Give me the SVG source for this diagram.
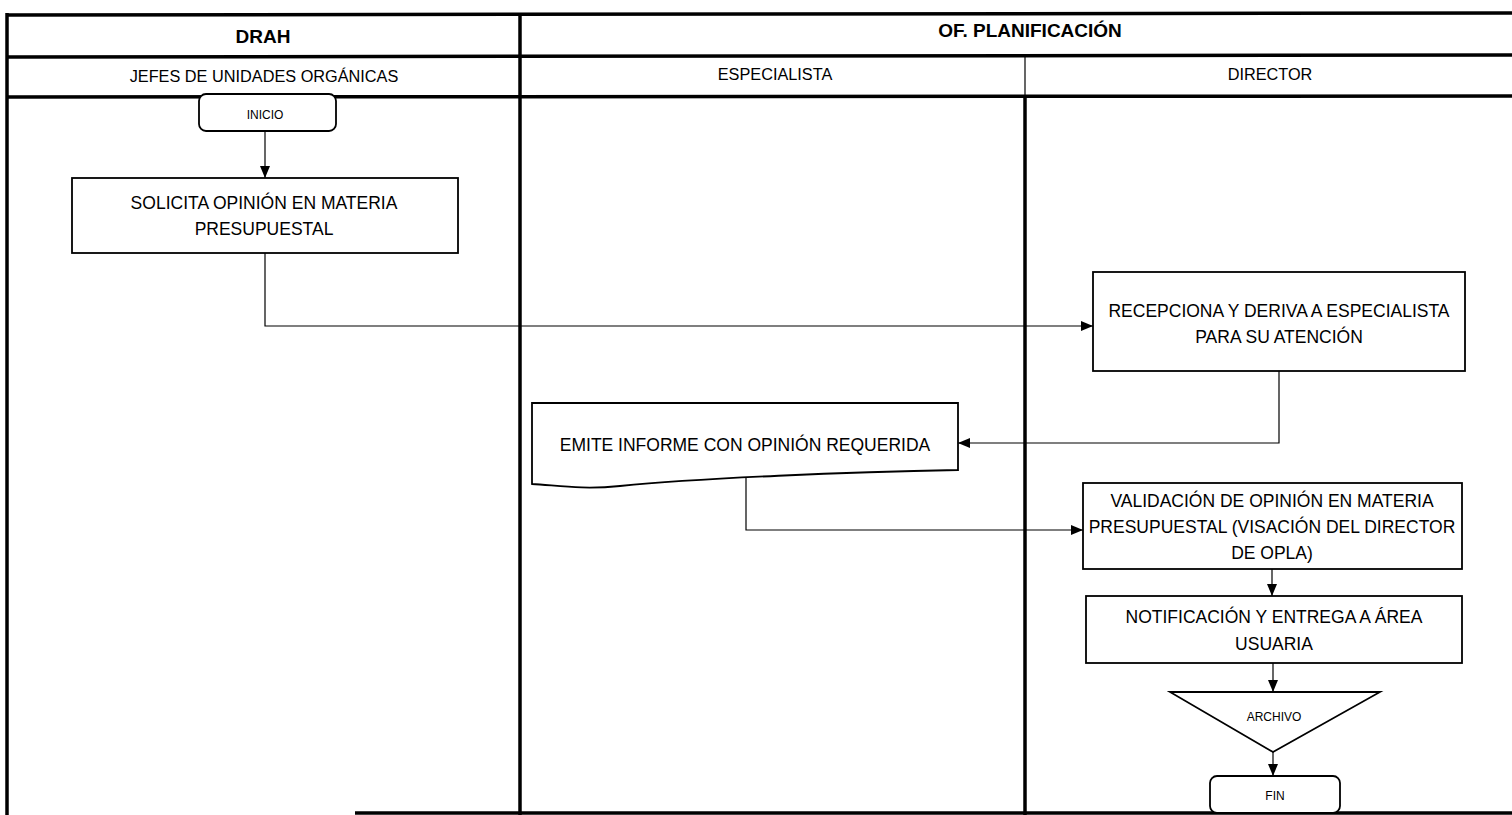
<svg xmlns="http://www.w3.org/2000/svg" width="1512" height="815" viewBox="0 0 1512 815">
<style>
.frame{stroke:#000;stroke-width:3.5;fill:none}
.thin{stroke:#000;stroke-width:1.2;fill:none}
.box{stroke:#000;stroke-width:1.8;fill:#fff}
.conn{stroke:#000;stroke-width:1.2;fill:none}
.t{font-family:"Liberation Sans",Arial,sans-serif;fill:#000;text-anchor:middle}
.hb{font-size:19px;font-weight:bold}
.h{font-size:16.3px}
.b{font-size:17.5px}
.s{font-size:12px}
</style>
<defs>
<marker id="ah" viewBox="0 0 12 10" refX="12" refY="5" markerWidth="12" markerHeight="10" markerUnits="userSpaceOnUse" orient="auto">
<path d="M0,0 L12,5 L0,10 z" fill="#000"/>
</marker>
</defs>
<rect width="1512" height="815" fill="#fff"/>
<g id="lanes">
<line class="frame" x1="6" y1="15" x2="1512" y2="13"/>
<line class="frame" x1="6" y1="57" x2="1512" y2="55"/>
<line class="frame" x1="6" y1="97" x2="1512" y2="96"/>
<line class="frame" x1="7" y1="13" x2="7" y2="815"/>
<line class="frame" x1="520" y1="13" x2="520" y2="815"/>
<line class="thin" x1="1025" y1="56" x2="1025" y2="97"/>
<line class="frame" x1="1025" y1="96" x2="1025" y2="815"/>
<line class="frame" x1="355" y1="813" x2="1512" y2="813"/>
<text class="t hb" x="263" y="43">DRAH</text>
<text class="t hb" x="1030" y="37">OF. PLANIFICACIÓN</text>
<text class="t h" x="264" y="82">JEFES DE UNIDADES ORGÁNICAS</text>
<text class="t h" x="775" y="80">ESPECIALISTA</text>
<text class="t h" x="1270" y="80">DIRECTOR</text>
</g>
<g id="connectors">
<line class="conn" x1="265" y1="131" x2="265" y2="178" marker-end="url(#ah)" stroke-width="1.8"/>
<polyline class="conn" points="265,253 265,326 1093,326" marker-end="url(#ah)"/>
<polyline class="conn" points="1279,371 1279,443 958,443" marker-end="url(#ah)"/>
<polyline class="conn" points="746,478 746,530 1083,530" marker-end="url(#ah)"/>
<line class="conn" x1="1272" y1="569" x2="1272" y2="596" marker-end="url(#ah)" stroke-width="1.8"/>
<line class="conn" x1="1273" y1="663" x2="1273" y2="692" marker-end="url(#ah)" stroke-width="1.8"/>
<line class="conn" x1="1273" y1="752" x2="1273" y2="776" marker-end="url(#ah)" stroke-width="1.8"/>
</g>
<g id="inicio">
<rect class="box" x="199" y="94" width="137" height="37" rx="7"/>
<text class="t s" x="265" y="119">INICIO</text>
</g>
<g id="solicita">
<rect class="box" x="72" y="178" width="386" height="75"/>
<text class="t b" x="264" y="209">SOLICITA OPINIÓN EN MATERIA</text>
<text class="t b" x="264" y="235">PRESUPUESTAL</text>
</g>
<g id="recepciona">
<rect class="box" x="1093" y="272" width="372" height="99"/>
<text class="t b" x="1279" y="317">RECEPCIONA Y DERIVA A ESPECIALISTA</text>
<text class="t b" x="1279" y="343">PARA SU ATENCIÓN</text>
</g>
<g id="emite">
<path class="box" d="M532,403 L958,403 L958,470 C850,472 700,478 620,486 C580,490 555,485 532,484 Z"/>
<text class="t b" x="745" y="451">EMITE INFORME CON OPINIÓN REQUERIDA</text>
</g>
<g id="validacion">
<rect class="box" x="1083" y="483" width="379" height="86"/>
<text class="t b" x="1272" y="507">VALIDACIÓN DE OPINIÓN EN MATERIA</text>
<text class="t b" x="1272" y="533">PRESUPUESTAL (VISACIÓN DEL DIRECTOR</text>
<text class="t b" x="1272" y="559">DE OPLA)</text>
</g>
<g id="notificacion">
<rect class="box" x="1086" y="596" width="376" height="67"/>
<text class="t b" x="1274" y="623">NOTIFICACIÓN Y ENTREGA A ÁREA</text>
<text class="t b" x="1274" y="650">USUARIA</text>
</g>
<g id="archivo">
<polygon class="box" points="1170,692 1380,692 1273,752"/>
<text class="t s" x="1274" y="721">ARCHIVO</text>
</g>
<g id="fin">
<rect class="box" x="1210" y="776" width="130" height="37" rx="7"/>
<text class="t s" x="1275" y="800">FIN</text>
</g>
</svg>
